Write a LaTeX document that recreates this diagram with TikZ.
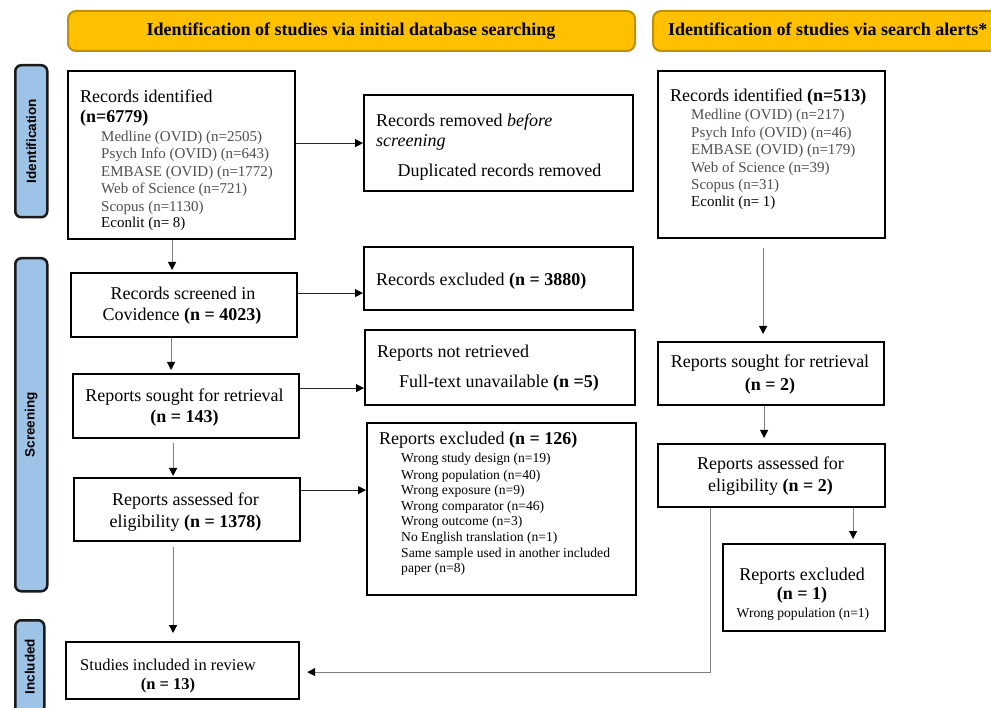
\documentclass[tikz,border=0pt]{standalone}
\usepackage{fontspec}
\setmainfont{Liberation Serif}
\newfontfamily\sidefont{Liberation Sans}
\usetikzlibrary{arrows.meta}
\definecolor{hdrfill}{HTML}{FFC000}
\definecolor{hdrdraw}{HTML}{BF9000}
\definecolor{sidefill}{HTML}{9DC3E6}
\definecolor{sidedraw}{HTML}{1A1A1A}
\definecolor{itemgray}{HTML}{4F4F4F}
\definecolor{conngray}{HTML}{808080}
\tikzset{
  box/.style={draw=black, line width=2.2pt, fill=white, rectangle, inner sep=0pt, anchor=north west},
  hdr/.style={draw=hdrdraw, fill=hdrfill, line width=2pt, rounded corners=8pt, rectangle, inner sep=0pt, anchor=north west},
  sidebox/.style={draw=sidedraw, fill=sidefill, line width=2.5pt, rounded corners=6pt, rectangle, inner sep=0pt, anchor=north west},
  sidetxt/.style={rotate=90, inner sep=0pt, font=\sidefont\bfseries\fontsize{13.5}{15}\selectfont},
  hdrtxt/.style={inner sep=0pt, font=\bfseries\fontsize{18}{20}\selectfont},
  big/.style={inner sep=0pt, font=\fontsize{18}{20}\selectfont},
  mid/.style={inner sep=0pt, font=\fontsize{16.5}{19}\selectfont},
  sml/.style={inner sep=0pt, font=\fontsize{15}{17}\selectfont, text=itemgray},
  smlk/.style={inner sep=0pt, font=\fontsize{15}{17}\selectfont, text=black},
  tiny/.style={inner sep=0pt, font=\fontsize{13.6}{15.6}\selectfont},
  varrow/.style={draw=conngray, line width=1pt, -{Triangle[length=8pt,width=8pt,color=black]}},
  harrow/.style={draw=black!85, line width=0.8pt, -{Triangle[length=8pt,width=8pt,color=black]}}
}
\begin{document}
\begin{tikzpicture}[x=1pt,y=-1pt]
\useasboundingbox (0,0) rectangle (991,708);
\clip (0,0) rectangle (991,708);

% headers
\node[hdr, minimum width=567pt, minimum height=40pt] (H1) at (67,10) {};
\node[hdrtxt, anchor=base] (H1t) at (351,36) {Identification of studies via initial database searching};
\node[hdr, minimum width=358pt, minimum height=40pt] (H2) at (652,10) {};
\node[hdrtxt, anchor=base west] (H2t) at (668,36) {Identification of studies via search alerts*};

% side labels
\node[sidebox, minimum width=32pt, minimum height=152pt] (S1) at (14,64) {};
\node[sidetxt] (S1t) at (S1.center) {Identification};
\node[sidebox, minimum width=32pt, minimum height=333pt] (S2) at (14,257) {};
\node[sidetxt] (S2t) at (S2.center) {Screening};
\node[sidebox, minimum width=29pt, minimum height=93pt] (S3) at (14,619) {};
\node[sidetxt] (S3t) at (S3.center) {Included};

% boxes
\node[box, minimum width=227pt, minimum height=168pt] (A) at (67,70) {};
\node[box, minimum width=269pt, minimum height=96pt] (B) at (363,94) {};
\node[box, minimum width=226pt, minimum height=64pt] (C) at (70,272) {};
\node[box, minimum width=269pt, minimum height=63pt] (D) at (363,246) {};
\node[box, minimum width=226pt, minimum height=64pt] (E) at (72,373) {};
\node[box, minimum width=270pt, minimum height=75pt] (F) at (364,329) {};
\node[box, minimum width=226pt, minimum height=63pt] (G) at (73,477) {};
\node[box, minimum width=269pt, minimum height=172pt] (H) at (366,422) {};
\node[box, minimum width=233pt, minimum height=57pt] (I) at (65,641) {};
\node[box, minimum width=227pt, minimum height=167pt] (J) at (657,70) {};
\node[box, minimum width=226pt, minimum height=63pt] (K) at (657,341) {};
\node[box, minimum width=227pt, minimum height=63pt] (L) at (657,443) {};
\node[box, minimum width=162pt, minimum height=87pt] (M) at (722,543) {};

% A text
\node[big, anchor=base west] (A1) at (80,103) {Records identified};
\node[big, anchor=base west] (A2) at (80,123) {\textbf{(n=6779)}};
\node[sml, anchor=base west] (A3) at (101,142) {Medline (OVID) (n=2505)};
\node[sml, anchor=base west] (A4) at (101,159) {Psych Info (OVID) (n=643)};
\node[sml, anchor=base west] (A5) at (101,177) {EMBASE (OVID) (n=1772)};
\node[sml, anchor=base west] (A6) at (101,194) {Web of Science (n=721)};
\node[sml, anchor=base west] (A7) at (101,212) {Scopus (n=1130)};
\node[smlk, anchor=base west] (A8) at (101,228) {Econlit (n= 8)};

% B text
\node[big, anchor=base west] (B1) at (376,127) {Records removed \textit{before}};
\node[big, anchor=base west] (B2) at (376,147) {\textit{screening}};
\node[big, anchor=base] (B3) at (499.5,177) {Duplicated records removed};

% C text
\node[big, anchor=base] (C1) at (183,300) {Records screened in};
\node[big, anchor=base] (C2) at (182,321) {Covidence \textbf{(n = 4023)}};

% D text
\node[big, anchor=base west] (D1) at (376,286) {Records excluded \textbf{(n = 3880)}};

% E text
\node[big, anchor=base] (E1) at (184.5,402) {Reports sought for retrieval};
\node[big, anchor=base] (E2) at (184.5,423) {\textbf{(n = 143)}};

% F text
\node[big, anchor=base west] (F1) at (377,358) {Reports not retrieved};
\node[big, anchor=base west] (F2) at (399,388) {Full-text unavailable \textbf{(n =5)}};

% G text
\node[big, anchor=base] (G1) at (185.5,505) {Reports assessed for};
\node[big, anchor=base] (G2) at (185.5,527) {eligibility \textbf{(n = 1378)}};

% H text
\node[big, anchor=base west] (H0) at (379,445) {Reports excluded \textbf{(n = 126)}};
\node[tiny, anchor=base west] (Ha) at (401,463) {Wrong study design (n=19)};
\node[tiny, anchor=base west] (Hb) at (401,479) {Wrong population (n=40)};
\node[tiny, anchor=base west] (Hc) at (401,494) {Wrong exposure (n=9)};
\node[tiny, anchor=base west] (Hd) at (401,510) {Wrong comparator (n=46)};
\node[tiny, anchor=base west] (He) at (401,525) {Wrong outcome (n=3)};
\node[tiny, anchor=base west] (Hf) at (401,541) {No English translation (n=1)};
\node[tiny, anchor=base west] (Hg) at (401,557) {Same sample used in another included};
\node[tiny, anchor=base west] (Hh) at (401,572) {paper (n=8)};

% I text
\node[mid, anchor=base] (I1) at (168,670) {Studies included in review};
\node[mid, anchor=base] (I2) at (168,689) {\textbf{(n = 13)}};

% J text
\node[big, anchor=base west] (J1) at (670,102) {Records identified \textbf{(n=513)}};
\node[sml, anchor=base west] (J2) at (691,120) {Medline (OVID) (n=217)};
\node[sml, anchor=base west] (J3) at (691,138) {Psych Info (OVID) (n=46)};
\node[sml, anchor=base west] (J4) at (691,155) {EMBASE (OVID) (n=179)};
\node[sml, anchor=base west] (J5) at (691,173) {Web of Science (n=39)};
\node[sml, anchor=base west] (J6) at (691,190) {Scopus (n=31)};
\node[smlk, anchor=base west] (J7) at (691,207) {Econlit (n= 1)};

% K text
\node[big, anchor=base] (K1) at (770,368) {Reports sought for retrieval};
\node[big, anchor=base] (K2) at (770,391) {\textbf{(n = 2)}};

% L text
\node[big, anchor=base] (L1) at (770.5,470) {Reports assessed for};
\node[big, anchor=base] (L2) at (770.5,492) {eligibility \textbf{(n = 2)}};

% M text
\node[big, anchor=base] (M1) at (802,580) {Reports excluded};
\node[big, anchor=base] (M2) at (802,599) {\textbf{(n = 1)}};
\node[tiny, anchor=base] (M3) at (803,617) {Wrong population (n=1)};

% vertical connectors
\draw[varrow, shorten >=2pt] ([xshift=-9.5pt]A.south) -- ([xshift=-9.5pt]A.south |- C.north);
\draw[varrow, shorten >=3pt] ([xshift=-13pt]C.south) -- ([xshift=-13pt]C.south |- E.north);
\draw[varrow, shorten <=4pt, shorten >=1pt] ([xshift=-13pt]E.south) -- ([xshift=-13pt]E.south |- G.north);
\draw[varrow, shorten <=5pt, shorten >=8pt] ([xshift=-14pt]G.south) -- ([xshift=-14pt]G.south |- I.north);
\draw[varrow, shorten <=9pt, shorten >=7pt] ([xshift=-8.5pt]J.south) -- ([xshift=-8.5pt]J.south |- K.north);
\draw[varrow, shorten >=5pt] ([xshift=-7pt]K.south) -- ([xshift=-7pt]K.south |- L.north);
\draw[varrow, shorten >=4pt] ([xshift=81.5pt]L.south) -- ([xshift=81.5pt]L.south |- M.north);
\draw[varrow, shorten >=7pt] ([xshift=-61.5pt]L.south) |- ([yshift=-1.5pt]I.east);

% horizontal connectors
\draw[harrow] (A.east |- B.west) -- (B.west);
\draw[harrow] ([yshift=12pt]C.east) -- ([yshift=12pt]C.east -| D.west);
\draw[harrow] ([yshift=18pt]E.east) -- ([yshift=18pt]E.east -| F.west);
\draw[harrow] ([yshift=19.5pt]G.east) -- ([yshift=19.5pt]G.east -| H.west);
\end{tikzpicture}
\end{document}
